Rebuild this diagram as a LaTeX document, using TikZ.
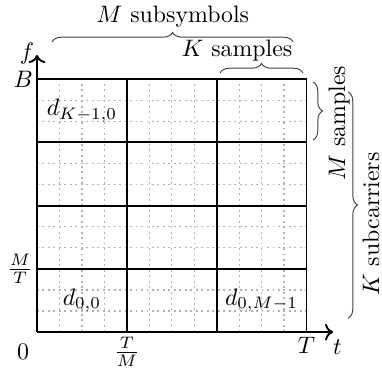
\documentclass[tikz,border=0pt]{standalone}
\usepackage{amsmath,amssymb}
\usepackage{tikz}
\usetikzlibrary{arrows.meta,decorations.pathreplacing}

\begin{document}
\begin{tikzpicture}[x=0.3315cm, y=0.3112cm, every node/.style={font=\normalsize},
	fine/.style={gray!60, dash pattern=on 0.8pt off 1.5pt, line width=0.5pt},
	brc/.style={decorate, decoration={brace, amplitude=4pt}, black!75, thin}]
	\useasboundingbox (-1.647,-1.66) rectangle (15.36,15.75);
	% fine sample grid and block borders
	\foreach \i in {1,...,11} {
		\draw[fine] (\i,0) -- (\i,12);
		\draw[fine] (0,\i) -- (12,\i);
	}
	\foreach \x in {4,8,12} \draw[thick] (\x,0) -- (\x,12);
	\foreach \y in {3,6,9,12} \draw[thick] (0,\y) -- (12,\y);
	% axes
	\draw[->, thick] (0,0) -- (13.18,0);
	\draw[->, thick] (0,0) -- (0,13.14);
	\node (tlab) at (13.38,-0.735) {$t$};
	\node[left, inner sep=1pt] (flab) at (0,13.2) {$f$};
	\node[left, inner sep=1.5pt] (blab) at (0,12) {$B$};
	\node[left, inner sep=1.5pt] (mtlab) at (0,3) {$\frac{M}{T}$};
	\node (zlab) at (-0.62,-0.95) {$0$};
	\node[below, inner sep=2pt] (tmlab) at (4,0) {$\frac{T}{M}$};
	\node[below, inner sep=2pt] (Tlab) at (12,0) {$T$};
	% data symbols
	\node (dtop) at (2,10.5) {$d_{K-1,0}$};
	\node (dzero) at (2,1.5) {$d_{0,0}$};
	\node (dlast) at (10,1.5) {$d_{0,M-1}$};
	% braces
	\draw[brc] (0.67,13.76) -- (11.4,13.76);
	\node (msub) at (6.05,14.94) {$M$~subsymbols};
	\draw[brc] (8.15,12.29) -- (11.84,12.29);
	\node (ksam) at (8.9,13.33) {$K$ samples};
	\draw[brc] (12.29,11.86) -- (12.29,9.11);
	\node[rotate=90] (msam) at (13.45,9.91) {$M$ samples};
	\draw[brc] (13.85,11.39) -- (13.85,0.66);
	\node[rotate=90] (ksub) at (14.87,5.12) {$K$ subcarriers};
\end{tikzpicture}
\end{document}
